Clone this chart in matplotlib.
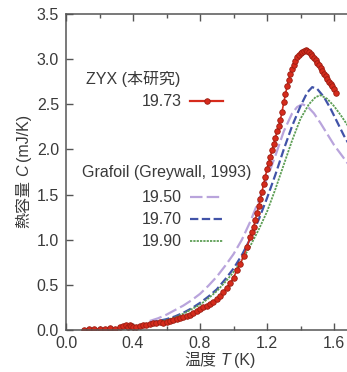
import matplotlib
matplotlib.use("Agg")
import matplotlib.pyplot as plt
from matplotlib.lines import Line2D
from matplotlib.ticker import MultipleLocator, FormatStrFormatter

plt.rcParams['font.family'] = ['Liberation Sans', 'Noto Sans CJK JP']
plt.rcParams['lines.scale_dashes'] = False

# ZYX (this work), 19.73
zyx_T = [0.11, 0.14, 0.17, 0.20, 0.23, 0.26, 0.29, 0.32, 0.34, 0.36, 0.37, 0.38,
         0.39, 0.40, 0.42, 0.44, 0.46, 0.48, 0.50, 0.52, 0.54, 0.56, 0.58, 0.60,
         0.62, 0.64, 0.66, 0.68, 0.70, 0.72, 0.74, 0.76, 0.78, 0.80, 0.82, 0.84,
         0.86, 0.88, 0.90, 0.92, 0.94, 0.96, 0.98, 1.00, 1.02, 1.04, 1.06, 1.08,
         1.10, 1.11, 1.12, 1.13, 1.14, 1.15, 1.16, 1.17, 1.18, 1.19, 1.20, 1.21,
         1.22, 1.23, 1.24, 1.25, 1.26, 1.27, 1.28, 1.29, 1.30, 1.31, 1.32, 1.33,
         1.34, 1.35, 1.36, 1.37, 1.38, 1.39, 1.40, 1.41, 1.42, 1.43, 1.44, 1.45,
         1.46, 1.47, 1.48, 1.49, 1.50, 1.51, 1.52, 1.53, 1.54, 1.55, 1.56, 1.57,
         1.58, 1.59, 1.60, 1.61]
zyx_C = [0.00, 0.01, 0.01, 0.01, 0.015, 0.02, 0.015, 0.03, 0.04, 0.05, 0.03, 0.05,
         0.04, 0.03, 0.03, 0.04, 0.05, 0.06, 0.07, 0.08, 0.08, 0.09, 0.08, 0.09,
         0.10, 0.11, 0.12, 0.13, 0.14, 0.15, 0.17, 0.19, 0.21, 0.23, 0.25, 0.27,
         0.29, 0.31, 0.34, 0.38, 0.42, 0.47, 0.52, 0.58, 0.66, 0.73, 0.82, 0.92,
         1.03, 1.08, 1.14, 1.22, 1.30, 1.37, 1.45, 1.53, 1.62, 1.70, 1.78, 1.85,
         1.92, 1.99, 2.06, 2.13, 2.20, 2.26, 2.33, 2.42, 2.52, 2.61, 2.70, 2.77,
         2.84, 2.89, 2.94, 2.98, 3.02, 3.05, 3.07, 3.08, 3.09, 3.10, 3.09, 3.08,
         3.06, 3.04, 3.01, 2.99, 2.96, 2.93, 2.90, 2.87, 2.84, 2.81, 2.78, 2.75,
         2.72, 2.70, 2.67, 2.63]

# Grafoil (Greywall, 1993)
g50_T = [0.50, 0.55, 0.60, 0.65, 0.70, 0.75, 0.80, 0.85, 0.90, 0.95, 1.00, 1.05,
         1.10, 1.15, 1.20, 1.25, 1.30, 1.35, 1.38, 1.41, 1.44, 1.48, 1.52, 1.56,
         1.60, 1.64, 1.68, 1.72]
g50_C = [0.10, 0.13, 0.17, 0.22, 0.27, 0.33, 0.40, 0.49, 0.59, 0.71, 0.84, 1.00,
         1.20, 1.43, 1.68, 1.93, 2.20, 2.40, 2.47, 2.50, 2.48, 2.40, 2.29, 2.17,
         2.05, 1.95, 1.85, 1.76]
g70_T = [0.50, 0.55, 0.60, 0.65, 0.70, 0.75, 0.80, 0.85, 0.90, 0.95, 1.00, 1.05,
         1.10, 1.15, 1.20, 1.25, 1.30, 1.35, 1.40, 1.44, 1.47, 1.50, 1.54, 1.58,
         1.62, 1.66, 1.72]
g70_C = [0.08, 0.10, 0.12, 0.15, 0.19, 0.24, 0.30, 0.37, 0.45, 0.56, 0.68, 0.83,
         1.01, 1.22, 1.46, 1.72, 2.00, 2.26, 2.48, 2.63, 2.69, 2.67, 2.58, 2.45,
         2.30, 2.15, 1.96]
g90_T = [0.50, 0.55, 0.60, 0.65, 0.70, 0.75, 0.80, 0.85, 0.90, 0.95, 1.00, 1.05,
         1.10, 1.15, 1.20, 1.25, 1.30, 1.35, 1.40, 1.45, 1.49, 1.52, 1.56, 1.60,
         1.64, 1.68, 1.72]
g90_C = [0.07, 0.09, 0.11, 0.14, 0.18, 0.23, 0.28, 0.35, 0.43, 0.53, 0.64, 0.77,
         0.93, 1.11, 1.31, 1.56, 1.83, 2.10, 2.34, 2.50, 2.58, 2.60, 2.56, 2.48,
         2.38, 2.27, 2.17]

red = '#d62b1c'
red_edge = '#9a1d12'
purple = '#b9a4dc'
blue = '#4153a8'
green = '#5d9e55'
txt = '#3a3a3a'
fs = 11.5

fig = plt.figure(figsize=(3.47, 3.72), dpi=100)
W, H = 347, 372


def fx(x):
    return x / W


def fy(y):
    return 1 - y / H


# axes runs past the right edge of the figure (cropped like the reference)
ax = fig.add_axes([fx(66), fy(330), 301.5 / W, 316 / H])

ax.plot(g50_T, g50_C, color=purple, lw=1.6, dashes=(9, 3))
ax.plot(g70_T, g70_C, color=blue, lw=1.6, dashes=(6, 2.5))
ax.plot(g90_T, g90_C, color=green, lw=1.3, dashes=(1.6, 0.8))
ax.plot(zyx_T, zyx_C, color=red, lw=1.2, marker='o', ms=4,
        mfc=red, mec=red_edge, mew=0.6)

ax.set_xlim(0, 1.8)
ax.set_ylim(0, 3.5)
ax.xaxis.set_major_locator(MultipleLocator(0.4))
ax.xaxis.set_minor_locator(MultipleLocator(0.2))
ax.yaxis.set_major_locator(MultipleLocator(0.5))
ax.tick_params(which='both', direction='in', top=True, right=False,
               color='#555555', labelcolor=txt, labelsize=fs)
ax.tick_params(which='major', length=5, width=1)
ax.tick_params(which='minor', length=3, width=1)
ax.tick_params(axis='x', pad=4)
ax.tick_params(axis='y', pad=5)
for s in ['left', 'bottom', 'top', 'right']:
    ax.spines[s].set_color('#555555')
    ax.spines[s].set_linewidth(1.1)
ax.xaxis.set_major_formatter(FormatStrFormatter('%.1f'))
ax.yaxis.set_major_formatter(FormatStrFormatter('%.1f'))


def pieced_label(pieces, x0, y0, vertical):
    # pieces: (text, style); laid out along baseline, centred on (x0, y0)
    r = fig.canvas.get_renderer()
    gap = 4
    ts = []
    for s, st in pieces:
        t = fig.text(0, 0, s, fontsize=fs, color=txt, style=st,
                     rotation=90 if vertical else 0, rotation_mode='anchor',
                     ha='left', va='baseline')
        ts.append(t)
    lens = []
    for t in ts:
        bb = t.get_window_extent(r)
        lens.append(bb.height if vertical else bb.width)
    total = sum(lens) + gap * (len(ts) - 1)
    pos = (y0 + total / 2) if vertical else (x0 - total / 2)
    for t, L in zip(ts, lens):
        if vertical:
            t.set_position((fx(x0), fy(pos)))
            pos -= L + gap
        else:
            t.set_position((fx(pos), fy(y0)))
            pos += L + gap


pieced_label([('温度', 'normal'), ('T', 'italic'), ('(K)', 'normal')],
             220, 365, False)
pieced_label([('熱容量', 'normal'), ('C', 'italic'), ('(mJ/K)', 'normal')],
             28, 171, True)

# legend drawn by hand
fig.text(fx(86), fy(79), 'ZYX (本研究)', fontsize=fs, color=txt, va='center')
fig.text(fx(82), fy(173), 'Grafoil (Greywall, 1993)', fontsize=fs,
         color=txt, va='center')

fig.text(fx(182), fy(102), '19.73', fontsize=fs, color=txt,
         va='center', ha='right')
fig.add_artist(Line2D([fx(190), fx(223)], [fy(101), fy(101)], color=red,
                      lw=1.6, transform=fig.transFigure))
fig.add_artist(Line2D([fx(207)], [fy(101)], color=red, marker='o', ms=4,
                      mec=red_edge, mew=0.6, transform=fig.transFigure))

entries = [('19.50', purple, 1.6, (9, 3), 197),
           ('19.70', blue, 1.6, (6, 2.5), 219),
           ('19.90', green, 1.3, (1.6, 0.8), 241)]
for lab, c, lw, d, y in entries:
    fig.text(fx(182), fy(y), lab, fontsize=fs, color=txt,
             va='center', ha='right')
    fig.add_artist(Line2D([fx(190), fx(223)], [fy(y), fy(y)], color=c, lw=lw,
                          dashes=d, transform=fig.transFigure))

fig.savefig('out.png', dpi=100)
